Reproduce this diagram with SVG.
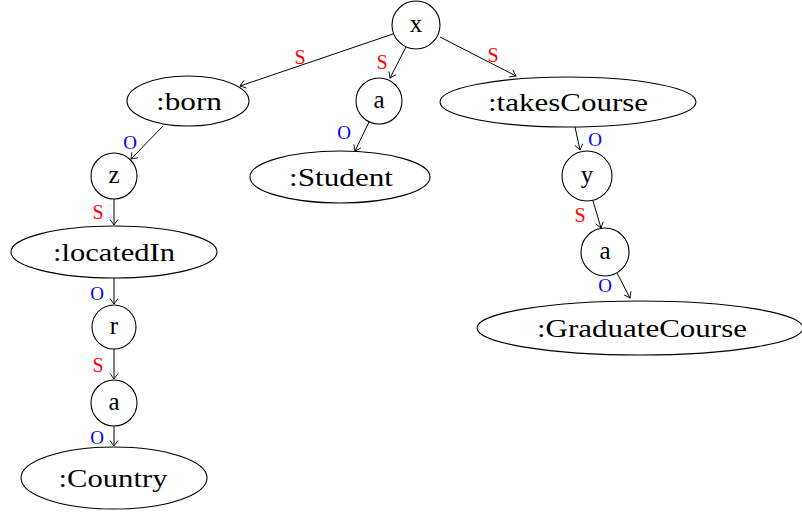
<svg xmlns="http://www.w3.org/2000/svg" width="802" height="513" viewBox="0 0 802 513">
<style>
.n{fill:#fff;stroke:#000;stroke-width:1.1}
text{font-family:'Liberation Serif','DejaVu Serif',serif}
.t{font-size:25px;fill:#000;text-anchor:middle;dominant-baseline:central}
.e{stroke:#000;stroke-width:1;fill:none;marker-end:url(#ar)}
.s{font-size:20px;fill:#ff0000;text-anchor:middle;dominant-baseline:central}
.o{font-size:19px;fill:#0000ff;text-anchor:middle;dominant-baseline:central}
</style>
<defs>
<marker id="ar" markerUnits="userSpaceOnUse" markerWidth="12" markerHeight="12" viewBox="-7 -6 8 12" refX="0" refY="0" orient="auto">
<path d="M-5.5,-4 Q-1.5,-1 0,0 Q-1.5,1 -5.5,4" fill="none" stroke="#000" stroke-width="0.9"/>
</marker>
</defs>
<rect width="802" height="513" fill="#fff"/>
<g id="connectors">
<line class="e" x1="393" y1="34" x2="240" y2="86"/>
<line class="e" x1="406" y1="47" x2="390" y2="78"/>
<line class="e" x1="440" y1="37" x2="516" y2="76"/>
<line class="e" x1="163" y1="126" x2="131" y2="159"/>
<line class="e" x1="369" y1="122" x2="355" y2="151"/>
<line class="e" x1="114" y1="199" x2="114" y2="225"/>
<line class="e" x1="114" y1="278" x2="114" y2="304"/>
<line class="e" x1="114" y1="349" x2="114" y2="379"/>
<line class="e" x1="114" y1="426" x2="114" y2="446"/>
<line class="e" x1="575" y1="127" x2="580" y2="150"/>
<line class="e" x1="593" y1="201" x2="601" y2="228"/>
<line class="e" x1="617" y1="273" x2="630" y2="298"/>
<text class="s" x="300" y="57">S</text>
<text class="s" x="382" y="62">S</text>
<text class="s" x="493" y="55">S</text>
<text class="o" x="130" y="142">O</text>
<text class="o" x="344" y="132">O</text>
<text class="s" x="98" y="212">S</text>
<text class="o" x="97" y="293">O</text>
<text class="s" x="98" y="365">S</text>
<text class="o" x="97" y="437">O</text>
<text class="o" x="595" y="139">O</text>
<text class="s" x="580" y="215">S</text>
<text class="o" x="605" y="285">O</text>
</g>
<g id="x"><circle class="n" cx="416" cy="25" r="24"/><text class="t" x="416" y="23">x</text></g>
<g id="born"><ellipse class="n" cx="188" cy="101" rx="61" ry="25"/><text class="t" x="189" y="101" textLength="66" lengthAdjust="spacingAndGlyphs">:born</text></g>
<g id="a1"><circle class="n" cx="379" cy="101" r="23"/><text class="t" x="379" y="99">a</text></g>
<g id="takesCourse"><ellipse class="n" cx="568" cy="102" rx="128" ry="25"/><text class="t" x="568" y="102" textLength="160" lengthAdjust="spacingAndGlyphs">:takesCourse</text></g>
<g id="Student"><ellipse class="n" cx="340" cy="177" rx="90" ry="26"/><text class="t" x="341" y="177" textLength="104" lengthAdjust="spacingAndGlyphs">:Student</text></g>
<g id="z"><circle class="n" cx="114" cy="176" r="23"/><text class="t" x="114" y="174">z</text></g>
<g id="y"><circle class="n" cx="587" cy="176" r="25"/><text class="t" x="587" y="174">y</text></g>
<g id="locatedIn"><ellipse class="n" cx="114" cy="252" rx="103" ry="26"/><text class="t" x="114" y="252" textLength="122" lengthAdjust="spacingAndGlyphs">:locatedIn</text></g>
<g id="a3"><circle class="n" cx="605" cy="252" r="24"/><text class="t" x="605" y="250">a</text></g>
<g id="GraduateCourse"><ellipse class="n" cx="640" cy="328" rx="163" ry="27"/><text class="t" x="642" y="328" textLength="210" lengthAdjust="spacingAndGlyphs">:GraduateCourse</text></g>
<g id="r"><circle class="n" cx="114" cy="327" r="22"/><text class="t" x="114" y="325">r</text></g>
<g id="a2"><circle class="n" cx="114" cy="403" r="23"/><text class="t" x="114" y="401">a</text></g>
<g id="Country"><ellipse class="n" cx="114" cy="478" rx="93" ry="31"/><text class="t" x="113" y="478" textLength="109" lengthAdjust="spacingAndGlyphs">:Country</text></g>
</svg>
